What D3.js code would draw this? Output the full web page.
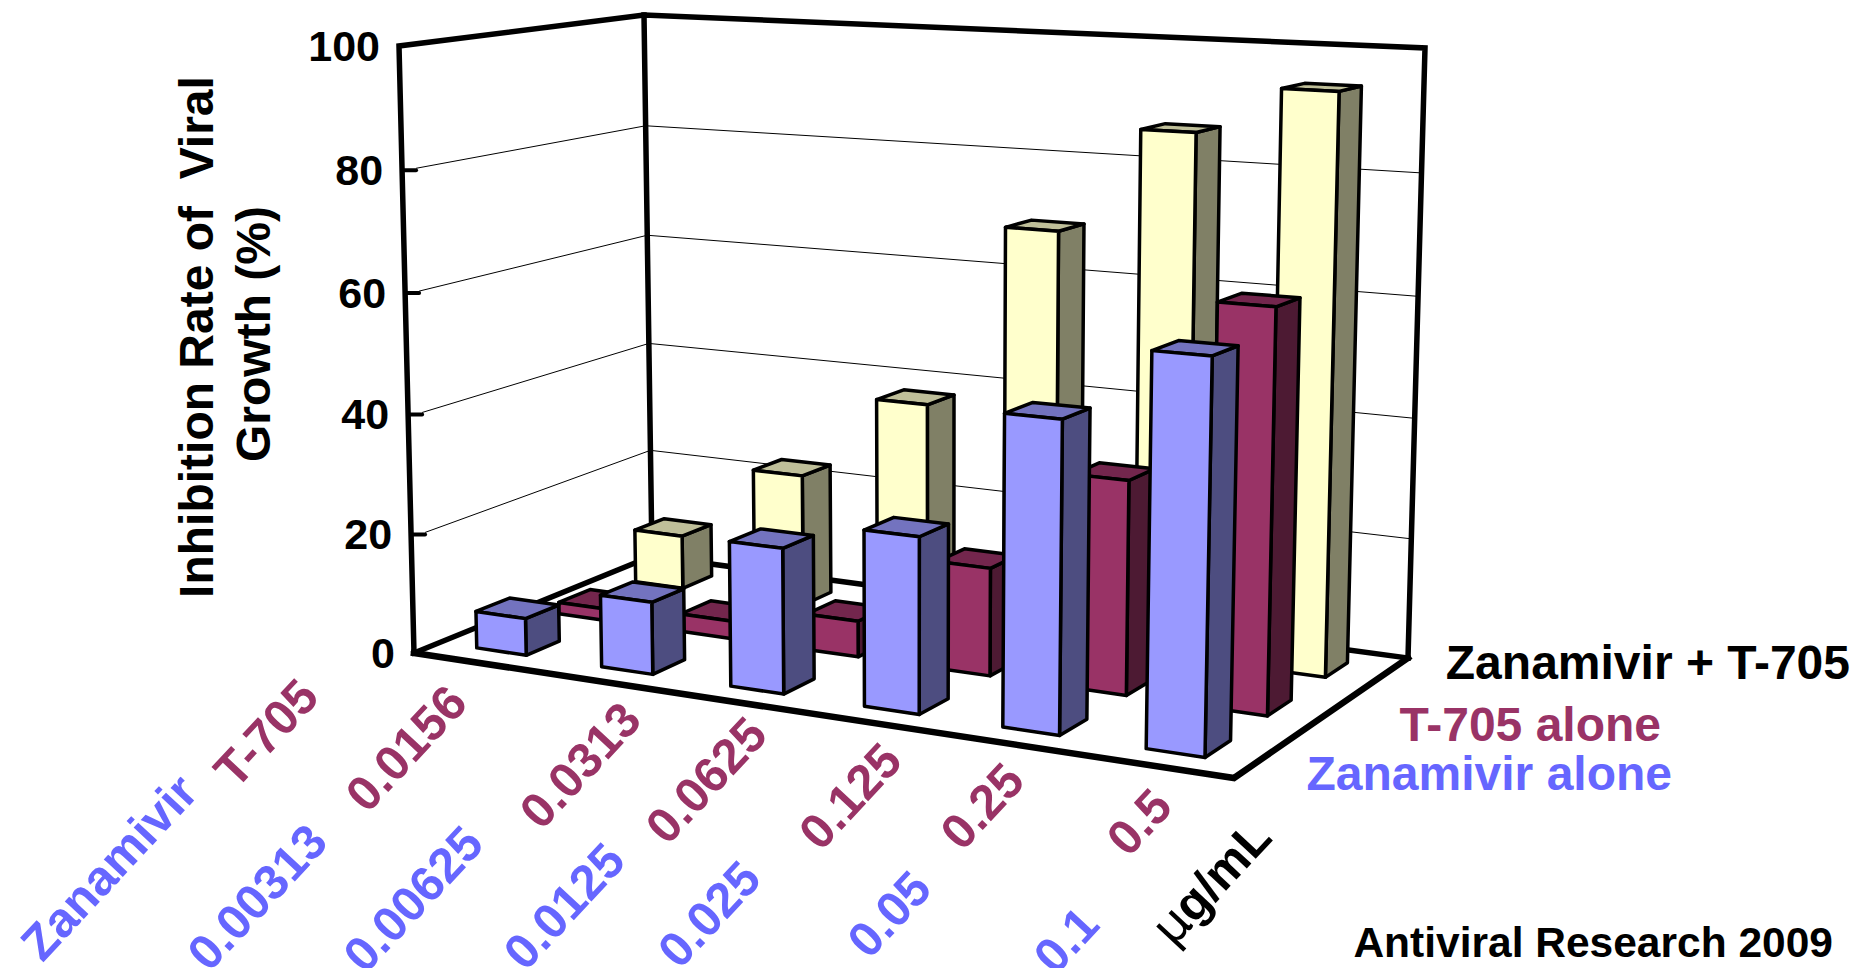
<!DOCTYPE html>
<html><head><meta charset="utf-8">
<script src="https://cdn.jsdelivr.net/npm/d3@7/dist/d3.min.js"></script>
<style>html,body{margin:0;background:#fff;overflow:hidden}svg{display:block}
text{font-family:"Liberation Sans",Arial,sans-serif;font-weight:700}</style></head>
<body><svg id="c" width="1856" height="968"></svg>
<script>
const seriesNames = ["Zanamivir alone", "T-705 alone", "Zanamivir + T-705"];
const zanamivirAlone = [6.2, 11.9, 23.5, 28, 48.5, 60];
const t705Alone = [2, 3, 6, 17.7, 34.5, 63.7];
const combined = [9.5, 23, 37.8, 69, 86.5, 94.2];
const seriesValues = [zanamivirAlone, t705Alone, combined];
const categories = [0, 1, 2, 3, 4, 5];
const zanamivirDoses = ["0.00313", "0.00625", "0.0125", "0.025", "0.05", "0.1"];
const t705Doses = ["0.0156", "0.0313", "0.0625", "0.125", "0.25", "0.5"];
const yTicks = [0, 20, 40, 60, 80, 100];

// layout of the perspective box: floor and top quads on screen
const floorQuad = [[414,653],[1234,778],[1408,658],[652,556]];
const topQuad = [[399,46],[1248,87],[1425,48],[644,15]];
const heightBow = 0.03;
const seriesColors = [
  {front:"#9999FF", side:"#4D4D80", top:"#7373BF", text:"#6666FF"},
  {front:"#993366", side:"#4D1A33", top:"#73264D", text:"#993366"},
  {front:"#FFFFCC", side:"#808066", top:"#BFBF99", text:"#000000"}
];
const legendLayout = [[1672,790],[1661,741],[1850,679]];
const redLabelPos = [[266,733],[406,748],[580,765],[706,780],[850,796],[982,806],[1139,822]];
const blueLabelPos = [[109,867],[257,897],[413,899],[564,906],[709,914],[889,914],[1066,940]];

function homography(q){
  const [[x0,y0],[x1,y1],[x2,y2],[x3,y3]] = q;
  const dx1=x1-x2, dx2=x3-x2, sx=x0-x1+x2-x3, dy1=y1-y2, dy2=y3-y2, sy=y0-y1+y2-y3;
  const den=dx1*dy2-dx2*dy1;
  const g=(sx*dy2-dx2*sy)/den, h=(dx1*sy-sx*dy1)/den;
  const a=x1-x0+g*x1, b=x3-x0+h*x3, c=x0, d=y1-y0+g*y1, e=y3-y0+h*y3, f=y0;
  return (u,v)=>{const w=g*u+h*v+1; return [(a*u+b*v+c)/w,(d*u+e*v+f)/w];};
}
const floorH = homography(floorQuad), topH = homography(topQuad);
const xScale = d3.scaleBand().domain(categories).range([0,0.996]).paddingInner(0.6).paddingOuter(0.3);
const zScale = d3.scaleBand().domain(seriesNames).range([0,1]).paddingInner(0.6).paddingOuter(0.3);
const yScale = d3.scaleLinear().domain([0,100]).range([0,1]);
function project(u,v,val){
  const w=yScale(val), t=w/(1+heightBow*(1-w));
  const F=floorH(u,v), T=topH(u,v);
  return [F[0]+(T[0]-F[0])*t, F[1]+(T[1]-F[1])*t];
}
const svg=d3.select("#c");
const line=d3.line();
const poly=pts=>line(pts)+"Z";
function stroke(pts,w){svg.append("path").attr("d",line(pts)).attr("fill","none").attr("stroke","#000").attr("stroke-width",w).attr("stroke-linejoin","miter").attr("stroke-linecap","square");}

// gridlines + ticks
yTicks.filter(t=>t>0&&t<100).forEach(t=>{
  const a=project(0,0,t), b=project(0,1,t), c=project(1,1,t);
  svg.append("path").attr("d",line([[a[0]+14,a[1]-2],b,c])).attr("fill","none").attr("stroke","#000").attr("stroke-width",1);
  svg.append("path").attr("d",line([a,[a[0]+14,a[1]]])).attr("fill","none").attr("stroke","#000").attr("stroke-width",4).attr("stroke-linecap","round");
});
// walls
stroke([project(0,0,0),project(0,0,100),project(0,1,100),project(1,1,100),project(1,1,0)],5.5);
stroke([project(0,1,100),project(0,1,0)],5.5);
stroke([project(0,0,0),project(0,1,0),project(1,1,0)],5.5);
stroke([project(0,0,0),project(1,0,0),project(1,1,0)],6.5);

// bars, back row first
[2,1,0].forEach(si=>{
  const name=seriesNames[si], col=seriesColors[si];
  const v0=zScale(name), v1=v0+zScale.bandwidth();
  const g=svg.append("g");
  categories.slice().reverse().forEach(ci=>{
    const val=seriesValues[si][ci];
    const u0=xScale(ci), u1=u0+xScale.bandwidth();
    const faces=[
      {c:col.side,p:[[u1,v0,0],[u1,v1,0],[u1,v1,val],[u1,v0,val]]},
      {c:col.top,p:[[u0,v0,val],[u1,v0,val],[u1,v1,val],[u0,v1,val]]},
      {c:col.front,p:[[u0,v0,0],[u1,v0,0],[u1,v0,val],[u0,v0,val]]}
    ];
    faces.forEach(f=>{
      g.append("path").attr("d",poly(f.p.map(q=>project(q[0],q[1],q[2]))))
       .attr("fill",f.c).attr("stroke","#000").attr("stroke-width",3.5).attr("stroke-linejoin","round");
    });
  });
});

// y axis labels
yTicks.forEach(t=>{
  const p=project(0,0,t);
  svg.append("text").attr("x",p[0]-19).attr("y",p[1]+15).attr("text-anchor","end").attr("font-size",43).attr("fill","#000").text(t);
});
// y title
svg.append("text").attr("transform","translate(213,337) rotate(-90)").attr("text-anchor","middle").attr("font-size",48).attr("fill","#000").attr("xml:space","preserve").style("white-space","pre").text("Inhibition Rate of  Viral");
svg.append("text").attr("transform","translate(270,334) rotate(-90)").attr("text-anchor","middle").attr("font-size",48).attr("fill","#000").text("Growth (%)");

// legend
seriesNames.forEach((n,i)=>{
  svg.append("text").attr("x",legendLayout[i][0]).attr("y",legendLayout[i][1]).attr("text-anchor","end").attr("font-size",48).attr("fill",seriesColors[i].text).text(n);
});
// rotated dose labels
const rot=(txt,p,color)=>svg.append("text").attr("transform",`translate(${p[0]},${p[1]}) rotate(-47)`).attr("text-anchor","middle").attr("dominant-baseline","central").attr("font-size",49).attr("fill",color).text(txt);
["T-705",...t705Doses].forEach((t,i)=>rot(t,redLabelPos[i],"#993366"));
["Zanamivir",...zanamivirDoses].forEach((t,i)=>rot(t,blueLabelPos[i],"#6666FF"));
const mu=rot("",[1211,882],"#000");
mu.append("tspan").attr("font-family","DejaVu Sans").attr("font-weight",400).text("\u03BC");
mu.append("tspan").text("g/mL");
// source
svg.append("text").attr("x",1833).attr("y",957).attr("text-anchor","end").attr("font-size",42.5).attr("fill","#000").text("Antiviral Research 2009");
</script></body></html>
